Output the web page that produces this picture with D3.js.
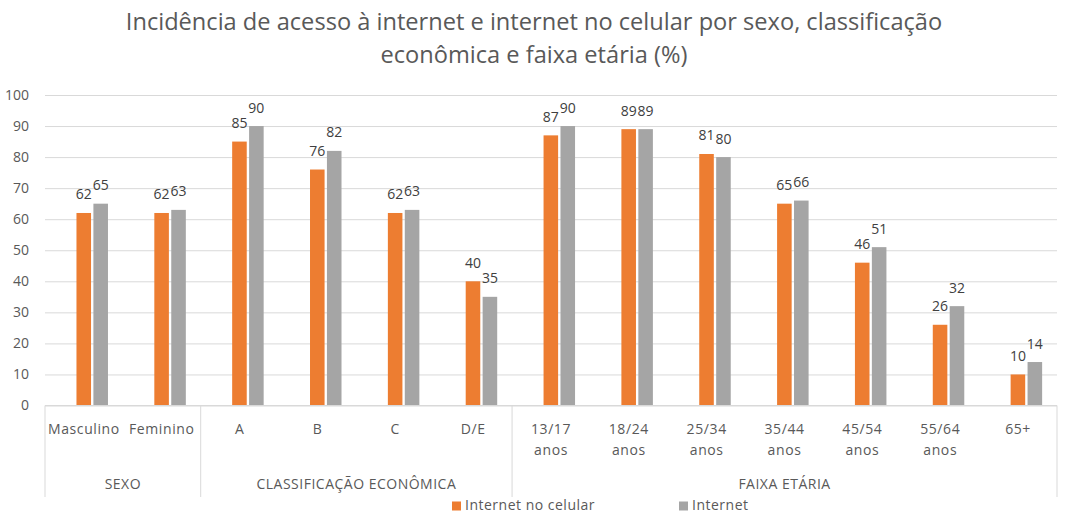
<!DOCTYPE html>
<html>
<head>
<meta charset="utf-8">
<script src="https://cdn.jsdelivr.net/npm/d3@7"></script>
<style>
  html, body { margin: 0; padding: 0; background: #ffffff; }
  svg { display: block; }
  text { font-family: "Open Sans", "Liberation Sans", sans-serif; }
</style>
</head>
<body>
<div id="chart"></div>
<script>
// ---------------- DATA ----------------
const titleLines = [
  "Incidência de acesso à internet e internet no celular por sexo, classificação",
  "econômica e faixa etária (%)"
];
const categories = ["Masculino", "Feminino", "A", "B", "C", "D/E",
  "13/17 anos", "18/24 anos", "25/34 anos", "35/44 anos", "45/54 anos", "55/64 anos", "65+"];
const categoryGroups = ["SEXO", "SEXO",
  "CLASSIFICAÇÃO ECONÔMICA", "CLASSIFICAÇÃO ECONÔMICA", "CLASSIFICAÇÃO ECONÔMICA", "CLASSIFICAÇÃO ECONÔMICA",
  "FAIXA ETÁRIA", "FAIXA ETÁRIA", "FAIXA ETÁRIA", "FAIXA ETÁRIA", "FAIXA ETÁRIA", "FAIXA ETÁRIA", "FAIXA ETÁRIA"];
const seriesNames = ["Internet no celular", "Internet"];
const celularValues  = [62, 62, 85, 76, 62, 40, 87, 89, 81, 65, 46, 26, 10];
const internetValues = [65, 63, 90, 82, 63, 35, 90, 89, 80, 66, 51, 32, 14];
const yTicks = [0, 10, 20, 30, 40, 50, 60, 70, 80, 90, 100];
const seriesColors = ["#ED7D31", "#A5A5A5"];

// ---------------- LAYOUT ----------------
const W = 1068, H = 530;
const plotLeft = 45, plotRight = 1057, plotTop = 95, plotBottom = 405.5;
const barShift = 8.3;          // bars sit slightly right of the band centre in the reference
const pairWidth = 31.5;
const textColor = "#595959";
const gridColor = "#d9d9d9";

const svg = d3.select("#chart").append("svg")
  .attr("width", W).attr("height", H);

const x = d3.scaleBand().domain(categories).range([plotLeft, plotRight]).padding(0);
const xs = d3.scaleBand().domain(seriesNames).range([0, pairWidth]).paddingInner(0.14);
const y = d3.scaleLinear().domain([0, 100]).range([plotBottom, plotTop]);

// ---------------- TITLE ----------------
const title = svg.append("g").attr("fill", textColor);
const t1 = title.append("text")
  .attr("x", W / 2).attr("y", 30)
  .attr("text-anchor", "middle")
  .style("font-size", "20px")
  .text(titleLines[0]);
const measured = t1.node().getComputedTextLength();
const titleSize = 20 * 817 / measured;
t1.style("font-size", titleSize + "px");
title.append("text")
  .attr("x", W / 2).attr("y", 63)
  .attr("text-anchor", "middle")
  .style("font-size", titleSize + "px")
  .text(titleLines[1]);

// ---------------- GRID + Y AXIS ----------------
const yAxis = d3.axisLeft(y).tickValues(yTicks)
  .tickSize(-(plotRight - plotLeft)).tickPadding(16);
const gy = svg.append("g").attr("transform", `translate(${plotLeft},0)`).call(yAxis);
gy.select(".domain").remove();
gy.selectAll(".tick line").attr("stroke", gridColor).attr("stroke-width", 1);
gy.selectAll(".tick text")
  .attr("fill", textColor)
  .style("font-size", "14px")
  .style("font-family", "'Open Sans', sans-serif");

// ---------------- BARS ----------------
const rows = categories.map((c, i) => ({ cat: c, vals: [celularValues[i], internetValues[i]] }));
const groupsG = svg.append("g");
const catG = groupsG.selectAll("g.cat").data(rows).join("g")
  .attr("class", "cat")
  .attr("transform", d => `translate(${x(d.cat) + x.bandwidth() / 2 - pairWidth / 2 + barShift},0)`);

catG.selectAll("rect").data(d => d.vals.map((v, j) => ({ s: seriesNames[j], v, j })))
  .join("rect")
  .attr("x", d => xs(d.s))
  .attr("width", xs.bandwidth())
  .attr("y", d => y(d.v))
  .attr("height", d => y(0) - y(d.v))
  .attr("fill", d => seriesColors[d.j]);

catG.selectAll("text.lbl").data(d => d.vals.map((v, j) => ({ s: seriesNames[j], v, j })))
  .join("text")
  .attr("class", "lbl")
  .attr("x", d => xs(d.s) + xs.bandwidth() / 2)
  .attr("y", d => y(d.v) - 13.5)
  .attr("text-anchor", "middle")
  .attr("fill", "#404040")
  .style("font-size", "14px")
  .text(d => d.v);

// ---------------- CATEGORY AXIS (multi-level) ----------------
const axisG = svg.append("g");
axisG.append("line")
  .attr("x1", plotLeft).attr("x2", plotRight)
  .attr("y1", y(0)).attr("y2", y(0))
  .attr("stroke", gridColor);

// category labels
const catLabels = axisG.selectAll("text.catlbl").data(categories).join("text")
  .attr("class", "catlbl")
  .attr("x", d => x(d) + x.bandwidth() / 2)
  .attr("y", 433.5)
  .attr("text-anchor", "middle")
  .attr("fill", textColor)
  .style("font-size", "14px")
  .style("letter-spacing", "0.6px");
catLabels.each(function (d) {
  const parts = d.split(" ");
  const sel = d3.select(this);
  parts.forEach((p, k) => {
    sel.append("tspan")
      .attr("x", x(d) + x.bandwidth() / 2)
      .attr("dy", k === 0 ? 0 : 21.5)
      .text(p);
  });
});

// group extents
const groupNames = Array.from(new Set(categoryGroups));
const groupExtents = groupNames.map(g => {
  const cats = categories.filter((c, i) => categoryGroups[i] === g);
  return { name: g, x0: x(cats[0]), x1: x(cats[cats.length - 1]) + x.bandwidth() };
});
const dividerXs = [groupExtents[0].x0].concat(groupExtents.map(g => g.x1));
axisG.selectAll("line.div").data(dividerXs).join("line")
  .attr("class", "div")
  .attr("x1", d => d).attr("x2", d => d)
  .attr("y1", y(0)).attr("y2", 497)
  .attr("stroke", gridColor);

axisG.selectAll("text.grp").data(groupExtents).join("text")
  .attr("class", "grp")
  .attr("x", d => (d.x0 + d.x1) / 2)
  .attr("y", 489)
  .attr("text-anchor", "middle")
  .attr("fill", textColor)
  .style("font-size", "14px")
  .style("letter-spacing", "0.5px")
  .text(d => d.name);

// ---------------- LEGEND ----------------
const legendStarts = [452, 679];
const legend = svg.append("g");
const li = legend.selectAll("g").data(seriesNames).join("g")
  .attr("transform", (d, i) => `translate(${legendStarts[i]},501.5)`);
li.append("rect").attr("width", 9).attr("height", 9)
  .attr("fill", (d, i) => seriesColors[i]);
li.append("text")
  .attr("x", 13).attr("y", 8.5)
  .attr("fill", textColor)
  .style("font-size", "14px")
  .style("letter-spacing", "0.5px")
  .text(d => d);
</script>
</body>
</html>
